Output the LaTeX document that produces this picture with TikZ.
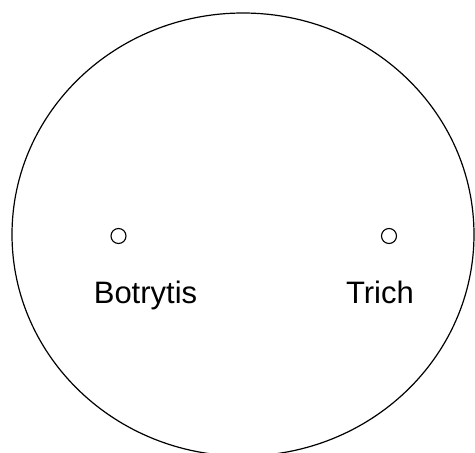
\documentclass[tikz,border=0pt]{standalone}
\usepackage{fontspec}
\setmainfont{Liberation Sans}
\begin{document}
\begin{tikzpicture}[x=1pt,y=-1pt,
  dish/.style={draw=black,line width=1.2pt},
  spot/.style={draw=black,line width=1.1pt,circle,minimum size=15pt,inner sep=0pt},
  lbl/.style={font=\fontsize{31}{37}\selectfont,anchor=base,inner sep=0pt}]
\useasboundingbox (0,0) rectangle (475,453);
\clip (0,0) rectangle (475,453);
\draw[dish] (243,234.5) ellipse [x radius=231, y radius=221.5];
\node[spot] (b) at (118.5,236) {};
\node[spot] (t) at (389,236) {};
\node[lbl] (bl) at (145.5,303.5) {Botrytis};
\node[lbl] (tl) at (380,303.5) {Trich};
\end{tikzpicture}
\end{document}
